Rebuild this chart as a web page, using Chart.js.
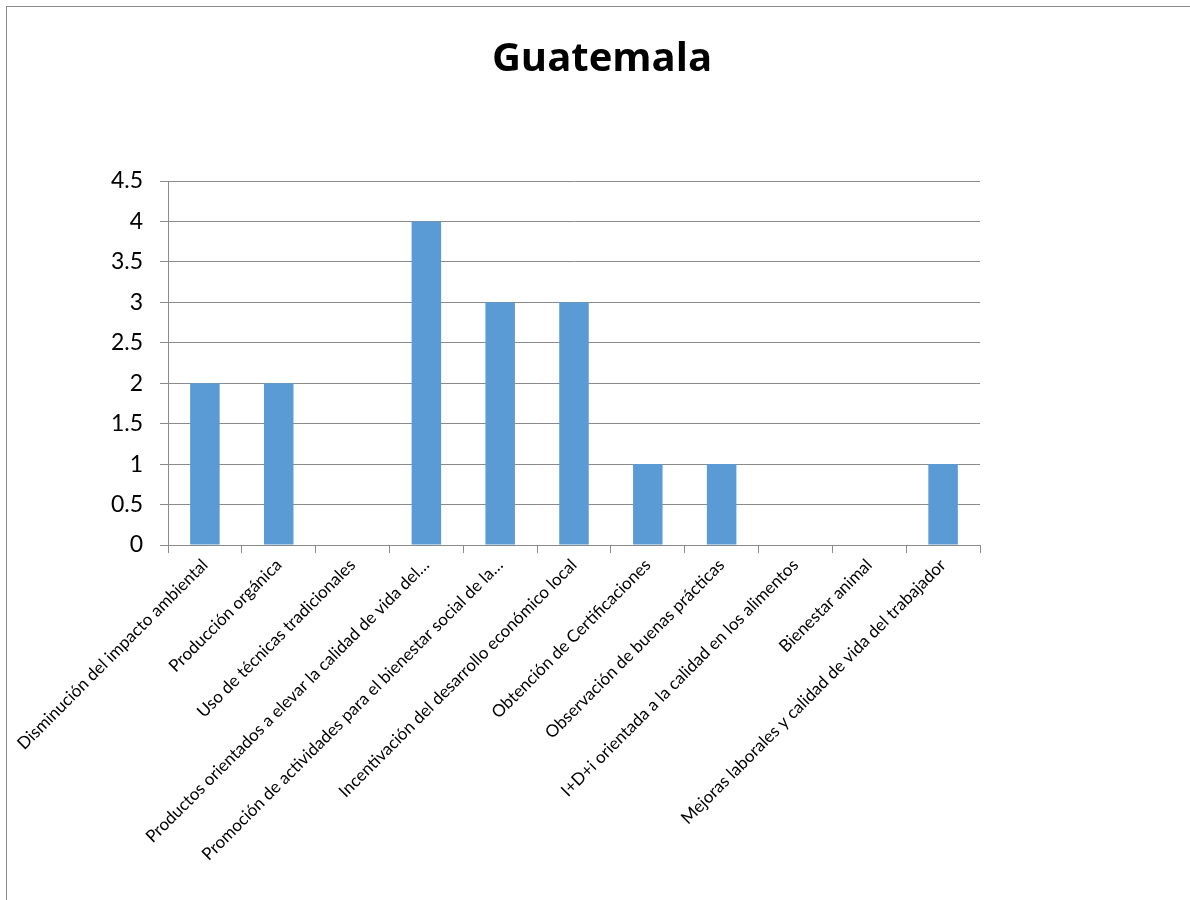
<!DOCTYPE html>
<html lang="es">
<head>
    <meta charset="UTF-8">
    <title>Guatemala</title>
    <script src="https://cdn.jsdelivr.net/npm/chart.js"></script>
    <style>
        html, body {
            margin: 0;
            padding: 0;
            background: #fff;
            overflow: hidden;
        }
        .frame {
            position: absolute;
            left: 6px;
            top: 6px;
            width: 1300px;
            height: 1000px;
            border-left: 1px solid #8c8c8c;
            border-top: 1px solid #8c8c8c;
        }
        .chart-box {
            position: absolute;
            left: 0;
            top: 0;
            width: 1190px;
            height: 900px;
        }
    </style>
</head>
<body>
    <div class="frame"></div>
    <div class="chart-box">
        <canvas id="guatemalaChart"></canvas>
    </div>
    <script>
        const chartTitle = 'Guatemala';
        const categories = [
            'Disminución del impacto ambiental',
            'Producción orgánica',
            'Uso de técnicas tradicionales',
            'Productos orientados a elevar la calidad de vida del…',
            'Promoción de actividades para el bienestar social de la…',
            'Incentivación del desarrollo económico local',
            'Obtención de Certificaciones',
            'Observación de buenas prácticas',
            'I+D+i orientada a la calidad en los alimentos',
            'Bienestar animal',
            'Mejoras laborales y calidad de vida del trabajador'
        ];
        const values = [2, 2, 0, 4, 3, 3, 1, 1, 0, 0, 1];
        const yMin = 0;
        const yMax = 4.5;
        const yStep = 0.5;

        const gridGrey = '#8a8a8a';

        // title is centred on the whole chart box, not on the plot area
        const titlePlugin = {
            id: 'boxTitle',
            afterDraw(chart) {
                const ctx = chart.ctx;
                ctx.save();
                ctx.font = 'bold 40px "Open Sans"';
                ctx.fillStyle = '#000';
                ctx.textAlign = 'center';
                ctx.textBaseline = 'alphabetic';
                ctx.fillText(chartTitle, 602, 71);
                ctx.restore();
            }
        };

        new Chart(document.getElementById('guatemalaChart'), {
            type: 'bar',
            data: {
                labels: categories,
                datasets: [{
                    data: values,
                    backgroundColor: '#5b9bd5',
                    barPercentage: 0.4,
                    categoryPercentage: 1.0
                }]
            },
            options: {
                responsive: true,
                maintainAspectRatio: false,
                animation: false,
                layout: {
                    padding: { left: 0, right: 210, top: 181, bottom: 0 }
                },
                plugins: {
                    legend: { display: false },
                    tooltip: { enabled: false },
                    title: { display: false }
                },
                scales: {
                    x: {
                        offset: true,
                        grid: {
                            offset: true,
                            drawOnChartArea: false,
                            drawTicks: true,
                            tickLength: 8,
                            color: gridGrey
                        },
                        border: { color: gridGrey },
                        ticks: {
                            autoSkip: false,
                            maxRotation: 45,
                            minRotation: 45,
                            padding: 2,
                            color: '#000',
                            font: { family: 'Lato', size: 17 }
                        },
                        afterFit: function (scale) {
                            scale.height = 355;
                        }
                    },
                    y: {
                        min: yMin,
                        max: yMax,
                        ticks: {
                            stepSize: yStep,
                            padding: 17,
                            color: '#000',
                            font: { family: 'Lato', size: 23 },
                            callback: function (v) { return String(v); }
                        },
                        grid: {
                            color: gridGrey,
                            tickLength: 8
                        },
                        border: { color: gridGrey },
                        afterFit: function (scale) {
                            scale.width = 168;
                        }
                    }
                }
            },
            plugins: [titlePlugin]
        });
    </script>
</body>
</html>
